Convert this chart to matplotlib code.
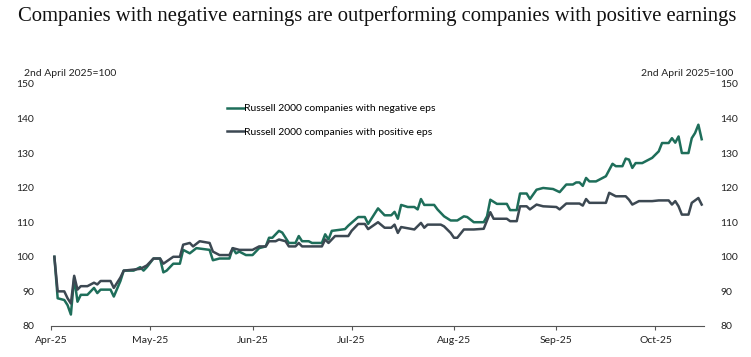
import numpy as np
import pandas as pd
import matplotlib
matplotlib.use("Agg")
import matplotlib.pyplot as plt
import matplotlib.dates as mdates

# days counted from 1st April 2025, values indexed to 2nd April 2025 = 100
base = pd.Timestamp("2025-04-01")

neg_days = [1, 2, 4, 5, 6, 7, 8, 9, 11, 13, 14, 15, 18, 19, 21, 22, 25, 27, 28, 29,
            31, 33, 34, 35, 37, 39, 40, 42, 44, 48, 49, 51, 54, 55, 56, 57, 59, 61, 63, 65,
            66, 67, 69, 70, 72, 74, 75, 76, 78, 79, 82, 83, 84, 85, 89, 90, 93, 95, 96, 98,
            99, 101, 103, 104, 105, 106, 108, 110, 111, 112, 113, 116, 117, 119, 121, 123, 125, 126, 128, 131,
            132, 133, 135, 138, 139, 141, 142, 144, 145, 147, 149, 152, 154, 156, 158, 159, 160, 161, 162, 163,
            165, 168, 170, 171, 173, 174, 175, 176, 177, 179, 181, 182, 184, 185, 187, 188, 189, 190, 191, 193,
            194, 195, 196, 197]
neg_vals = [100, 88, 87.5, 86, 83.3, 94, 87, 89, 89, 91, 89.5, 90.5, 90.5, 88.5, 93, 96, 96, 97, 96, 97,
            99.5, 99.5, 95.5, 96, 98, 98, 102, 101, 102.5, 102, 99, 99.5, 99.5, 102.5, 101, 101.5, 100.5, 100.5, 102.5, 103,
            105.5, 105.5, 107.5, 107, 104, 104, 106, 104.5, 104.5, 104, 104, 106.5, 105, 107.5, 108, 109, 111.5, 111.5, 109.5, 112.5,
            114, 112, 112, 113, 111, 115, 114.4, 114.4, 113.7, 116.7, 115, 115, 113.7, 111.7, 110.5, 110.5, 111.7, 111.5, 110, 110,
            111.7, 116.5, 115.3, 115.3, 113.5, 113.5, 118.3, 118.3, 116.7, 119.4, 119.9, 119.6, 118.7, 120.9, 120.9, 121.5, 121.5, 120.5, 122.8, 121.8,
            121.8, 123.3, 126.9, 126.2, 126.2, 128.4, 128.1, 125.7, 127.1, 127.1, 128.1, 128.6, 130.5, 132.9, 132.9, 134.3, 133, 134.8, 130, 130,
            134.3, 135.8, 138.2, 134]

pos_days = [1, 2, 4, 5, 6, 7, 8, 9, 11, 13, 14, 15, 18, 19, 21, 22, 27, 29, 31, 33,
            34, 37, 39, 40, 42, 43, 45, 48, 49, 51, 54, 55, 57, 61, 63, 65, 66, 68, 69, 71,
            72, 74, 75, 76, 82, 83, 84, 86, 90, 91, 93, 95, 96, 99, 101, 103, 104, 105, 106, 110,
            112, 113, 114, 118, 119, 121, 122, 123, 125, 128, 131, 133, 134, 138, 139, 141, 142, 144, 145, 147,
            149, 153, 154, 156, 160, 161, 162, 163, 166, 168, 169, 171, 174, 175, 176, 178, 182, 184, 187, 188,
            189, 190, 191, 193, 194, 196, 197]
pos_vals = [100, 90, 90, 88, 86.5, 94.5, 90.5, 91.5, 91.5, 92.5, 92, 93, 93, 91, 94, 96, 96.5, 97.5, 99.5, 99.5,
            98, 100, 100, 103.5, 104, 103, 104.5, 104, 101.5, 100.5, 100.5, 102.5, 102, 102, 103, 103, 104.5, 104.5, 105, 104.5,
            103, 103, 104, 103, 103, 105, 104, 106, 106, 107.5, 109.5, 109.5, 108, 110, 108.4, 108.4, 109.3, 106.9, 108.6, 107.9,
            109.8, 108.4, 109.3, 109.3, 108.8, 106.9, 105.5, 105.5, 107.9, 107.9, 108.1, 112.9, 111, 111, 110.3, 110.3, 114.6, 114.6, 113.7, 115.1,
            114.6, 114.4, 113.7, 115.4, 115.4, 114.8, 116.7, 115.6, 115.6, 115.6, 118.5, 117.5, 117.5, 116.5, 115.1, 116.1, 116.1, 116.3, 116.3, 115.1,
            116.1, 114.6, 112.2, 112.2, 115.6, 117, 115.1]

month_ticks = ["2025-04-01", "2025-05-01", "2025-06-01", "2025-07-01",
               "2025-08-01", "2025-09-01", "2025-10-01"]

neg_dates = base + pd.to_timedelta(neg_days, unit="D")
pos_dates = base + pd.to_timedelta(pos_days, unit="D")

green = "#1e6e5a"
slate = "#3c4852"
sans = "Lato"

fig = plt.figure(figsize=(7.51, 3.57), dpi=100)
ax = fig.add_axes([0.068, 0.087, 0.8694, 0.678])

ax.plot(neg_dates, neg_vals, color=green, lw=1.8, label="Russell 2000 companies with negative eps")
ax.plot(pos_dates, pos_vals, color=slate, lw=1.8, label="Russell 2000 companies with positive eps")

ax.set_ylim(80, 150)
ax.set_xlim(base, base + pd.Timedelta(days=197.7))
ax.set_yticks(np.arange(80, 151, 10))
ax.set_xticks(pd.to_datetime(month_ticks))
ax.xaxis.set_major_formatter(mdates.DateFormatter("%b-%y"))

for s in ["top", "left", "right"]:
    ax.spines[s].set_visible(False)
ax.spines["bottom"].set_color("#555555")
ax.spines["bottom"].set_linewidth(0.8)
ax.tick_params(axis="x", direction="out", length=3, width=0.8, color="#555555",
               labelsize=7.5, pad=4, labelcolor="#222222")
ax.tick_params(axis="y", length=0, labelsize=7.5, pad=12, labelcolor="#222222",
               left=True, right=True, labelleft=True, labelright=True)
for lab in ax.get_xticklabels() + ax.get_yticklabels():
    lab.set_fontfamily(sans)
for t in ax.yaxis.get_major_ticks():
    t.label2.set_fontfamily(sans)
    t.label2.set_fontsize(7.5)
    t.label2.set_color("#222222")

leg = ax.legend(loc="upper left", bbox_to_anchor=(0.255, 0.955), frameon=False,
                handlelength=1.6, handletextpad=0.05, labelspacing=1.35,
                prop={"family": sans, "size": 7.5})

fig.text(24 / 751, 1 - 73 / 357, "2nd April 2025=100", fontsize=7.5, family=sans,
         ha="left", va="center", color="#222222")
fig.text(733 / 751, 1 - 73 / 357, "2nd April 2025=100", fontsize=7.5, family=sans,
         ha="right", va="center", color="#222222")

fig.text(18 / 751, 1 - 16 / 357,
         "Companies with negative earnings are outperforming companies with positive earnings",
         fontsize=14.9, family="Liberation Serif", ha="left", va="center", color="#111111")

fig.savefig("out.png", dpi=100)
